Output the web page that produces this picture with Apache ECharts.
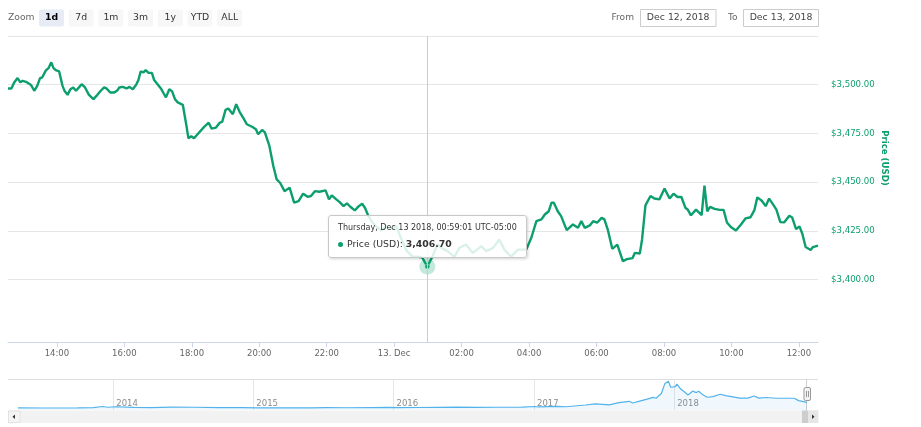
<!DOCTYPE html>
<html><head><meta charset="utf-8">
<script src="https://cdn.jsdelivr.net/npm/echarts@6/dist/echarts.min.js"></script>
<style>html,body{margin:0;padding:0;background:#fff}#c{width:921px;height:427px}</style>
</head><body><div id="c"></div>
<script>
// ---------- DATA ----------
const times = [
'12:33','12:39','12:44','12:50','12:55','12:59','13:05','13:14','13:20','13:25',
'13:30','13:34','13:40','13:45','13:50','13:54','13:58','14:04','14:10','14:14',
'14:19','14:24','14:29','14:34','14:40','14:44','14:50','14:57','15:05','15:12',
'15:18','15:24','15:28','15:35','15:42','15:48','15:51','15:57','16:00','16:04',
'16:09','16:15','16:21','16:25','16:29','16:34','16:38','16:43','16:49','16:53',
'16:59','17:05','17:10','17:14','17:20','17:25','17:30','17:35','17:44','17:50',
'17:54','17:59','18:04','18:13','18:22','18:30','18:35','18:43','18:50','18:54',
'19:00','19:05','19:13','19:19','19:25','19:32','19:38','19:48','19:54','19:58',
'20:05','20:10','20:18','20:25','20:31','20:37','20:45','20:54','21:02','21:10',
'21:18','21:26','21:32','21:39','21:47','21:58','22:04','22:09','22:17','22:23',
'22:30','22:36','22:42','22:50','22:57','23:03','23:08','23:13','23:20','23:28',
'23:37','23:46','23:55','00:04','00:13','00:22','00:33','00:42','00:50','00:59',
'01:08','01:17','01:26','01:35','01:47','01:56','02:08','02:20','02:35','02:44',
'02:56','03:07','03:16','03:28','03:40','03:55','04:04','04:13','04:22','04:28',
'04:35','04:40','04:44','04:51','04:57','05:07','05:18','05:27','05:33','05:39',
'05:48','05:54','06:01','06:09','06:14','06:20','06:28','06:37','06:47','06:54',
'07:04','07:08','07:17','07:21','07:27','07:36','07:43','07:52','08:01','08:10',
'08:17','08:24','08:31','08:38','08:42','08:48','08:57','09:07','09:12','09:17',
'09:22','09:30','09:39','09:46','09:52','09:59','10:08','10:17','10:25','10:34',
'10:41','10:46','10:54','11:01','11:07','11:14','11:20','11:27','11:34','11:43',
'11:48','11:55','12:01','12:06','12:12','12:21','12:25','12:34'
];
const prices = [
3498.1,3498.1,3501.2,3503.4,3501.2,3502.0,3501.5,3499.8,3496.9,3499.4,
3503.4,3503.8,3507.2,3508.5,3511.5,3508.5,3507.5,3506.8,3499.4,3496.6,
3494.8,3497.7,3498.6,3496.9,3498.9,3500.3,3498.6,3494.8,3492.6,3494.8,
3496.9,3498.6,3498.1,3496.0,3496.0,3497.2,3498.6,3498.9,3499.8,3498.1,
3498.9,3497.7,3500.0,3502.4,3506.8,3506.3,3507.5,3506.1,3506.1,3502.4,
3500.3,3498.1,3495.5,3493.5,3497.7,3496.6,3492.6,3490.9,3489.7,3479.7,
3472.5,3473.6,3472.5,3475.5,3478.4,3480.5,3477.5,3478.0,3480.6,3480.9,
3487.1,3487.8,3484.9,3490.0,3486.1,3482.7,3479.7,3478.3,3477.2,3474.6,
3476.8,3475.5,3468.6,3458.3,3451.4,3449.7,3445.4,3447.2,3439.5,3440.3,
3444.1,3442.5,3442.9,3445.4,3445.1,3445.8,3441.2,3443.2,3441.2,3439.8,
3437.7,3439.1,3437.4,3435.5,3437.7,3438.9,3436.9,3433.4,3429.8,3427.3,
3425.2,3427.3,3426.2,3427.3,3420.6,3414.9,3411.8,3411.8,3411.3,3406.7,
3411.8,3418.0,3415.9,3414.6,3411.7,3416.3,3418.0,3413.7,3417.1,3414.6,
3416.3,3420.6,3415.4,3411.8,3415.4,3415.4,3421.5,3430.0,3430.9,3433.4,
3435.1,3439.5,3439.5,3435.1,3432.6,3425.4,3428.3,3426.6,3430.0,3426.6,
3427.8,3430.0,3429.2,3431.7,3430.9,3425.7,3415.8,3418.0,3409.4,3410.5,
3411.0,3413.7,3413.4,3420.6,3438.1,3442.9,3441.6,3441.2,3446.7,3441.6,
3444.1,3442.4,3442.4,3436.9,3436.0,3433.0,3435.9,3433.1,3448.2,3435.0,
3437.3,3436.3,3435.8,3435.8,3429.3,3427.0,3425.2,3428.3,3431.4,3432.0,
3435.8,3442.2,3440.5,3437.7,3441.6,3438.6,3435.9,3429.5,3429.4,3432.8,
3431.9,3425.9,3427.3,3423.7,3416.7,3415.2,3416.7,3417.5
];
const navDates = [
'2013-04-28','2013-07-05','2013-10-01','2013-11-10','2013-12-04','2013-12-18','2014-01-06','2014-02-25','2014-04-10','2014-06-03',
'2014-08-01','2014-10-05','2014-12-01','2015-01-14','2015-03-01','2015-06-01','2015-07-10','2015-09-01','2015-11-04','2015-12-15',
'2016-01-15','2016-03-01','2016-06-17','2016-08-02','2016-10-01','2016-12-01','2017-01-04','2017-01-12','2017-03-03','2017-03-25',
'2017-05-15','2017-06-10','2017-07-16','2017-08-10','2017-09-06','2017-09-15','2017-10-01','2017-10-20','2017-11-07','2017-11-15',
'2017-11-29','2017-12-08','2017-12-17','2017-12-23','2017-12-27','2018-01-04','2018-01-08','2018-01-18','2018-01-29','2018-02-06',
'2018-02-18','2018-02-28','2018-03-06','2018-03-17','2018-03-28','2018-04-12','2018-05-01','2018-05-15','2018-06-03','2018-06-21',
'2018-07-12','2018-07-28','2018-08-10','2018-08-29','2018-09-24','2018-10-19','2018-11-10','2018-11-21','2018-12-13'
];
const navPrices = [
135,80,125,330,1150,600,950,540,380,670,
590,320,380,180,260,225,290,230,400,460,
380,430,760,530,615,750,1150,800,1280,950,
2200,3000,2300,3900,4800,3600,4800,6200,7600,7000,
10500,17500,19000,14800,15900,15200,17000,13500,11200,9300,
12000,11000,12000,9400,7700,8100,9800,8800,8000,7100,
7100,8600,7100,7500,7000,7000,7000,5300,4100
];
const xTickTimes = ['14:00','16:00','18:00','20:00','22:00','00:00','02:00','04:00','06:00','08:00','10:00','12:00'];
const dayLabel = '13. Dec';
const yTickValues = [3400,3425,3450,3475,3500];
const yTopLine = 3525;
const navYears = [2014,2015,2016,2017,2018];
const zoomButtons = ['1d','7d','1m','3m','1y','YTD','ALL'];
const selectedButton = '1d';
const fromDate = 'Dec 12, 2018';
const toDate = 'Dec 13, 2018';
const seriesName = 'Price (USD)';
const highlightTime = '00:59';
const tzLabel = 'UTC-05:00';

// ---------- BUILD ----------
const GREEN = '#0c9e6e';
const FONT = '"DejaVu Sans", Verdana, sans-serif';
function toTs(list, sec){
  let day = 12, prev = -1;
  return list.map(s => {
    const [h, m] = s.split(':').map(Number);
    const mins = h * 60 + m;
    if (prev >= 0 && mins < prev) day++;
    prev = mins;
    return Date.UTC(2018, 11, day, h, m, sec);
  });
}
const ts = toTs(times, 1);
const mainData = ts.map((t, i) => [t, prices[i]]);
const hiIdx = times.indexOf(highlightTime);
const xTicks = toTs(xTickTimes, 0);
const navData = navDates.map((d, i) => { const [y, mo, da] = d.split('-').map(Number); return [Date.UTC(y, mo - 1, da), navPrices[i]]; });
const navTicks = navYears.map(y => Date.UTC(y, 0, 1));
const pad = n => String(n).padStart(2, '0');
function fmtNum(v){
  const s = v.toFixed(2); const [a, b] = s.split('.');
  return a.replace(/\B(?=(\d{3})+(?!\d))/g, ',') + '.' + b;
}
const WD = ['Sunday','Monday','Tuesday','Wednesday','Thursday','Friday','Saturday'];
const MO = ['Jan','Feb','Mar','Apr','May','Jun','Jul','Aug','Sep','Oct','Nov','Dec'];

const chart = echarts.init(document.getElementById('c'));

const graphics = [];
graphics.push({type:'text', style:{text:'Zoom', x:8, y:18, fill:'#666', font:'9.2px ' + FONT, textVerticalAlign:'middle'}});
zoomButtons.forEach((b, i) => {
  const x = 39 + i * 29.7, sel = b === selectedButton;
  graphics.push({type:'rect', shape:{x:x, y:9.5, width:25, height:17, r:2}, style:{fill: sel ? '#e6ebf5' : '#f7f7f7'}});
  graphics.push({type:'text', style:{text:b, x:x + 12.5, y:18, fill: sel ? '#000' : '#333', font:(sel ? 'bold ' : '') + '9.3px ' + FONT, textAlign:'center', textVerticalAlign:'middle'}});
});
graphics.push({type:'text', style:{text:'From', x:634, y:18, fill:'#666', font:'9.1px ' + FONT, textAlign:'right', textVerticalAlign:'middle'}});
graphics.push({type:'rect', shape:{x:640.5, y:9.5, width:75.5, height:17}, style:{fill:'#fff', stroke:'#cccccc', lineWidth:1}});
graphics.push({type:'text', style:{text:fromDate, x:678.2, y:18, fill:'#444', font:'9.35px ' + FONT, textAlign:'center', textVerticalAlign:'middle'}});
graphics.push({type:'text', style:{text:'To', x:737.5, y:18, fill:'#666', font:'9.1px ' + FONT, textAlign:'right', textVerticalAlign:'middle'}});
graphics.push({type:'rect', shape:{x:743.5, y:9.5, width:75, height:17}, style:{fill:'#fff', stroke:'#cccccc', lineWidth:1}});
graphics.push({type:'text', style:{text:toDate, x:781, y:18, fill:'#444', font:'9.35px ' + FONT, textAlign:'center', textVerticalAlign:'middle'}});
// y axis title
graphics.push({type:'text', x:884, y:158, rotation:-Math.PI / 2, style:{text:seriesName, x:0, y:0, fill:GREEN, font:'bold 8.6px ' + FONT, textAlign:'center', textVerticalAlign:'middle'}});
// navigator outline
graphics.push({type:'line', shape:{x1:8, y1:379.5, x2:818, y2:379.5}, style:{stroke:'#dddddd', lineWidth:1}});
graphics.push({type:'line', shape:{x1:806.5, y1:379.5, x2:806.5, y2:410.5}, style:{stroke:'#cccccc', lineWidth:1}});
graphics.push({type:'rect', z:10, shape:{x:804, y:387.5, width:6.5, height:13, r:1.5}, style:{fill:'#f2f2f2', stroke:'#999', lineWidth:1}});
graphics.push({type:'line', z:11, shape:{x1:806.5, y1:391, x2:806.5, y2:397}, style:{stroke:'#999', lineWidth:1}});
graphics.push({type:'line', z:11, shape:{x1:808.5, y1:391, x2:808.5, y2:397}, style:{stroke:'#999', lineWidth:1}});
// scrollbar
graphics.push({type:'rect', shape:{x:8, y:410.5, width:810.3, height:12.5}, style:{fill:'#f2f2f2'}});
graphics.push({type:'rect', shape:{x:8.5, y:411, width:11.5, height:11.5}, style:{fill:'#f4f4f4', stroke:'#e2e2e2', lineWidth:1}});
graphics.push({type:'polygon', shape:{points:[[12.5,416.7],[15,414.5],[15,418.9]]}, style:{fill:'#333'}});
graphics.push({type:'rect', shape:{x:802, y:410.5, width:6.3, height:12.5}, style:{fill:'#cdcdcd'}});
graphics.push({type:'rect', shape:{x:808.3, y:410.5, width:10, height:12.5}, style:{fill:'#e6e6e6'}});
graphics.push({type:'polygon', shape:{points:[[814.5,416.7],[812,414.5],[812,418.9]]}, style:{fill:'#333'}});

const option = {
  animation: false,
  textStyle: {fontFamily: FONT},
  grid: [
    {left: 8, right: 103, top: 36, bottom: 85},
    {left: 18, right: 114, top: 379, bottom: 17}
  ],
  xAxis: [
    {type:'value', gridIndex:0, min:'dataMin', max:'dataMax',
     axisLine:{show:true, onZero:false, lineStyle:{color:'#ccd6eb', width:1}},
     axisTick:{show:true, customValues:xTicks, length:5, lineStyle:{color:'#ccd6eb'}},
     axisLabel:{customValues:xTicks, color:'#666', fontSize:8.5, margin:7,
       formatter: v => { const d = new Date(v); const h = d.getUTCHours(); return h === 0 ? dayLabel : pad(h) + ':' + pad(d.getUTCMinutes()); }},
     splitLine:{show:false}},
    {type:'value', gridIndex:1, min:'dataMin', max:'dataMax',
     axisLine:{show:false}, axisTick:{show:false, customValues:navTicks},
     axisLabel:{customValues:navTicks, inside:true, align:'left', padding:[0,0,0,3], margin:2, color:'#8c8c8c', fontSize:8.5,
       formatter: v => String(new Date(v).getUTCFullYear())},
     splitLine:{show:true, lineStyle:{color:'#e6e6e6', width:1}}}
  ],
  yAxis: [
    {type:'value', gridIndex:0, position:'right', min:3368, max:yTopLine,
     axisLine:{show:false}, axisTick:{show:false, customValues:yTickValues.concat([yTopLine])},
     axisLabel:{customValues:yTickValues, color:GREEN, fontSize:8.6, margin:13, verticalAlign:'middle', padding:[0,0,16,0],
       formatter: v => '$' + fmtNum(v)},
     splitLine:{show:true, lineStyle:{color:'#e6e6e6', width:1}}},
    {type:'value', gridIndex:1, min:-1350, max:20640, show:false, splitLine:{show:false}}
  ],
  tooltip: {
    trigger:'axis', triggerOn:'none', alwaysShowContent:true, transitionDuration:0,
    axisPointer:{type:'line', lineStyle:{color:'#cccccc', width:1, type:'solid'}},
    backgroundColor:'rgba(255,255,255,0.85)', borderColor:'#c8c8c8', borderWidth:1, padding:[6,9],
    extraCssText:'box-shadow:1px 1px 3px rgba(0,0,0,0.18);border-radius:3px;',
    position: function(point, params, dom, rect, size){
      const p = chart.convertToPixel({gridIndex:0}, params[0].value);
      return [p[0] - size.contentSize[0] / 2, p[1] - size.contentSize[1] - 9];
    },
    formatter: function(params){
      const p = params[0]; const d = new Date(p.value[0]);
      const head = WD[d.getUTCDay()] + ', ' + MO[d.getUTCMonth()] + ' ' + d.getUTCDate() + ' ' + d.getUTCFullYear() + ', ' +
        pad(d.getUTCHours()) + ':' + pad(d.getUTCMinutes()) + ':' + pad(d.getUTCSeconds()) + ' ' + tzLabel;
      return '<div style="font-family:' + FONT.replace(/"/g, "'") + ';color:#333;white-space:nowrap">' +
        '<div style="font-size:8px;line-height:12px">' + head + '</div>' +
        '<div style="font-size:9.3px;line-height:15px;margin-top:2px">' +
        '<span style="display:inline-block;width:5px;height:5px;border-radius:50%;background:' + GREEN + ';margin-right:4px;vertical-align:middle"></span>' +
        p.seriesName + ': <b>' + fmtNum(p.value[1]) + '</b></div></div>';
    }
  },
  graphic: graphics,
  series: [
    {type:'line', name:seriesName, xAxisIndex:0, yAxisIndex:0, data:mainData,
     showSymbol:false, symbol:'none',
     lineStyle:{color:GREEN, width:2.4}, itemStyle:{color:GREEN},
     emphasis:{disabled:true},
     markPoint:{silent:true, animation:false, label:{show:false},
       data:[
         {coord: mainData[hiIdx], symbol:'circle', symbolSize:16, itemStyle:{color:'rgba(12,158,110,0.25)'}},
         {coord: mainData[hiIdx], symbol:'circle', symbolSize:5, itemStyle:{color:GREEN, borderColor:'rgba(255,255,255,0.6)', borderWidth:0.6}}
       ]}},
    {type:'line', name:'nav', xAxisIndex:1, yAxisIndex:1, data:navData, silent:true,
     showSymbol:false, symbol:'none', lineStyle:{color:'#52b3ea', width:1.2},
     areaStyle:{color:'rgba(82,179,234,0.12)', origin:'start'}, tooltip:{show:false}}
  ]
};
chart.setOption(option);
chart.dispatchAction({type:'showTip', seriesIndex:0, dataIndex: hiIdx});
</script>
</body></html>
